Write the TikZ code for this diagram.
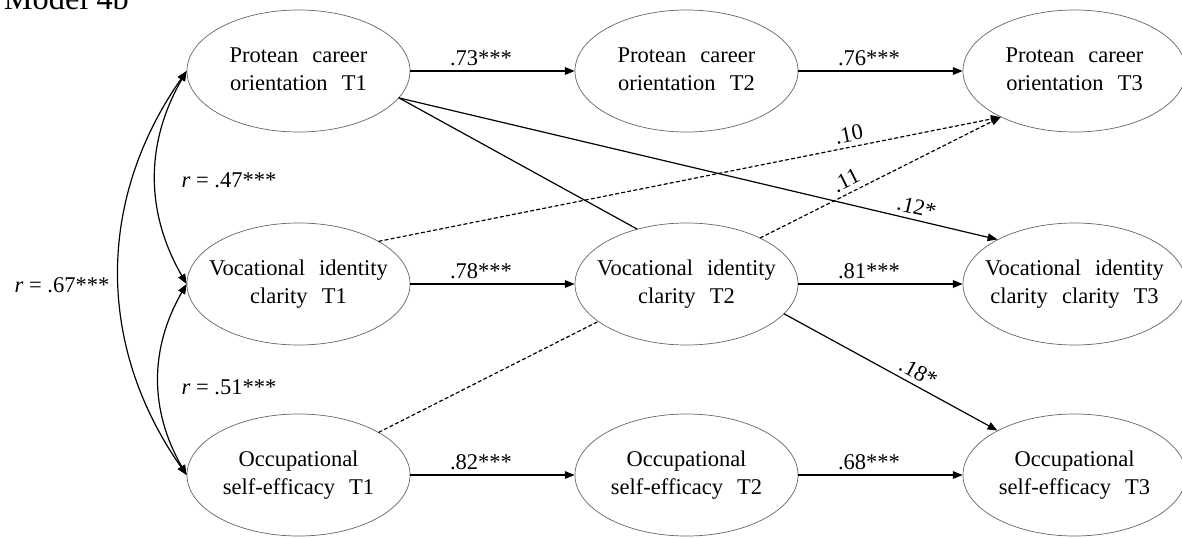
\documentclass[tikz,border=0pt]{standalone}
\usepackage{fontspec}
\setmainfont{Liberation Serif}
\newfontfamily\nodefont[WordSpace=2.5]{Liberation Serif}
\usetikzlibrary{shapes.geometric,arrows.meta}
\newcommand{\twolines}[2]{\makebox[0pt]{\begin{tabular}{@{}c@{}}#1\\#2\end{tabular}}}
\tikzset{
  latent/.style={draw=black!60, line width=0.5pt, ellipse, minimum width=5.575cm, minimum height=3.05cm, inner sep=0pt, font={\nodefont\fontsize{16}{20}\selectfont}},
  effect/.style={->, line width=0.85pt},
  nseffect/.style={effect, dash pattern=on 2.3pt off 2.1pt},
  corr/.style={<->, line width=0.85pt},
  coef/.style={font={\fontsize{16}{19}\selectfont}}
}
\begin{document}
\begin{tikzpicture}[x=0.025cm,y=-0.025cm,line cap=round,line join=round,>={Triangle[length=7pt,width=5.5pt]}]
    \useasboundingbox (0,0) rectangle (1182,538);
    \node[anchor=base west, font={\fontsize{23}{26}\selectfont}] (title) at (-1,10) {Model 4b};
    % variables
    \node[latent] (pco1) at (298.5,71) {\twolines{Protean career}{orientation T1}};
    \node[latent] (pco2) at (686.5,71) {\twolines{Protean career}{orientation T2}};
    \node[latent] (pco3) at (1074.5,71) {\twolines{Protean career}{orientation T3}};
    \node[latent] (vic1) at (298.5,284) {\twolines{Vocational identity}{clarity T1}};
    \node[latent] (vic2) at (686.5,284) {\twolines{Vocational identity}{clarity T2}};
    \node[latent] (vic3) at (1074.5,284) {\twolines{Vocational identity}{clarity clarity T3}};
    \node[latent] (ose1) at (298.5,475) {\twolines{Occupational}{self-efficacy T1}};
    \node[latent] (ose2) at (686.5,475) {\twolines{Occupational}{self-efficacy T2}};
    \node[latent] (ose3) at (1074.5,475) {\twolines{Occupational}{self-efficacy T3}};
    % stability paths
    \draw[effect] (pco1) -- node[coef, above, pos=0.43] (b73) {.73***} (pco2);
    \draw[effect] (pco2) -- node[coef, above, pos=0.43] (b76) {.76***} (pco3);
    \draw[effect] (vic1) -- node[coef, above, pos=0.43] (b78) {.78***} (vic2);
    \draw[effect] (vic2) -- node[coef, above, pos=0.43] (b81) {.81***} (vic3);
    \draw[effect] (ose1) -- node[coef, above, pos=0.43] (b82) {.82***} (ose2);
    \draw[effect] (ose2) -- node[coef, above, pos=0.43] (b68) {.68***} (ose3);
    % cross-lagged paths
    \draw[line width=0.85pt] (pco1.-15) -- (vic2.132);
    \draw[effect] (pco1.-15) -- node[coef, above, sloped, pos=0.86] (b12) {.12*} (vic3.150);
    \draw[nseffect] (vic1.28) -- node[coef, above, sloped, pos=0.76] (b10) {.10} (pco3.212);
    \draw[nseffect] (vic2.32) -- node[coef, above, sloped, pos=0.38] (b11) {.11} (pco3.212);
    \draw[line width=0.85pt, dash pattern=on 2.3pt off 2.1pt] (ose1.28) -- (vic2.203);
    \draw[effect] (vic2.-17) -- node[coef, above, sloped, pos=0.6] (b18) {.18*} (ose3.150);
    % correlations at T1
    \draw[corr] (pco1.west) to[bend right=30] (vic1.west);
    \draw[corr] (vic1.west) to[bend right=30] (ose1.west);
    \draw[corr] (pco1.west) to[bend right=35] (ose1.west);
    \node[coef] (r47) at (229,180) {\textit{r} = .47***};
    \node[coef] (r51) at (229,387) {\textit{r} = .51***};
    \node[coef] (r67) at (62,285) {\textit{r} = .67***};
\end{tikzpicture}
\end{document}
